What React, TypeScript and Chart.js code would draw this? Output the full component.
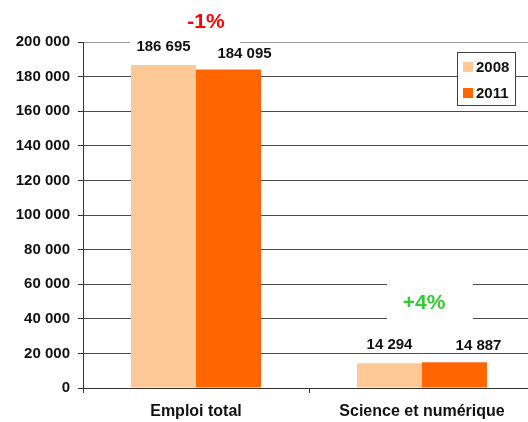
import React, { useEffect, useRef } from "react";
import { Chart, registerables } from "chart.js";

Chart.register(...registerables);

const categories = ["Emploi total", "Science et numérique"];
const seriesLabels = ["2008", "2011"];
const values2008 = [186695, 14294];
const values2011 = [184095, 14887];
const seriesColors = ["#FFC896", "#FF6600"];
const changeLabels = ["-1%", "+4%"];
const changeColors = ["#FF0000", "#33CC33"];
const yMin = 0;
const yMax = 200000;
const yStep = 20000;

const FONT = "'Liberation Sans', Arial, sans-serif";

const fmt = (v: number) =>
  String(Math.round(v)).replace(/\B(?=(\d{3})+(?!\d))/g, " ");

const overlayPlugin = {
  id: "overlay",
  afterDatasetsDraw(chart: any) {
    const ctx = chart.ctx as CanvasRenderingContext2D;
    const xs = chart.scales.x;
    const ys = chart.scales.y;
    const area = chart.chartArea;
    const c0 = xs.getPixelForValue(0);
    const c1 = xs.getPixelForValue(1);
    ctx.save();
    // white text boxes behind the change annotations
    ctx.fillStyle = "#FFFFFF";
    ctx.fillRect(c0 - 66, 0, 110, area.top + 1);
    const b1 = ys.getPixelForValue(66000);
    const b2 = ys.getPixelForValue(37000);
    ctx.fillRect(c1 - 35, b1, 86, b2 - b1);

    // value labels
    ctx.font = `bold 15px ${FONT}`;
    ctx.fillStyle = "#111111";
    ctx.textAlign = "center";
    ctx.textBaseline = "middle";
    const dxs = [
      [0, 0],
      [16, 24],
    ];
    const dys = [18, 16];
    chart.data.datasets.forEach((ds: any, di: number) => {
      const meta = chart.getDatasetMeta(di);
      meta.data.forEach((bar: any, i: number) => {
        ctx.fillText(fmt(ds.data[i]), bar.x + dxs[di][i], bar.y - dys[di]);
      });
    });

    // change annotations
    ctx.font = `bold 21px ${FONT}`;
    ctx.fillStyle = changeColors[0];
    ctx.fillText(changeLabels[0], c0 + 10, area.top - 20);
    ctx.fillStyle = changeColors[1];
    ctx.fillText(changeLabels[1], c1 + 2, ys.getPixelForValue(49000));

    // legend
    const lx = area.right - 78;
    const ly = area.top + 10;
    const lw = 58;
    const lh = 53;
    ctx.fillStyle = "#FFFFFF";
    ctx.fillRect(lx, ly, lw, lh);
    ctx.strokeStyle = "#404040";
    ctx.lineWidth = 1;
    ctx.strokeRect(lx + 0.5, ly + 0.5, lw, lh);
    ctx.textAlign = "left";
    ctx.font = `bold 15px ${FONT}`;
    chart.data.datasets.forEach((ds: any, di: number) => {
      const cy = ly + 15 + di * 26;
      ctx.fillStyle = ds.backgroundColor;
      ctx.fillRect(lx + 6, cy - 5, 10, 10);
      ctx.fillStyle = "#111111";
      ctx.fillText(ds.label, lx + 19, cy + 1);
    });
    ctx.restore();
  },
};

export default function App() {
  const ref = useRef<HTMLCanvasElement | null>(null);
  useEffect(() => {
    if (!ref.current) return;
    const chart = new Chart(ref.current, {
      type: "bar",
      data: {
        labels: categories,
        datasets: [
          {
            label: seriesLabels[0],
            data: values2008,
            backgroundColor: seriesColors[0],
            categoryPercentage: 0.575,
            barPercentage: 1,
          },
          {
            label: seriesLabels[1],
            data: values2011,
            backgroundColor: seriesColors[1],
            categoryPercentage: 0.575,
            barPercentage: 1,
          },
        ],
      },
      options: {
        responsive: false,
        animation: false,
        devicePixelRatio: 1,
        layout: { padding: { top: 42, left: 0, right: 5, bottom: 0 } },
        plugins: {
          legend: { display: false },
          tooltip: { enabled: false },
        },
        scales: {
          x: {
            afterFit: (s: any) => {
              s.height = 34;
            },
            grid: {
              display: true,
              drawOnChartArea: false,
              drawTicks: true,
              tickLength: 5,
              offset: true,
              color: "#333333",
            },
            border: { color: "#333333", width: 1 },
            ticks: {
              color: "#111111",
              padding: 9,
              font: { family: FONT, size: 16, weight: "bold" },
            },
          },
          y: {
            min: yMin,
            max: yMax,
            afterFit: (s: any) => {
              s.width = 83;
            },
            grid: {
              color: (c: any) =>
                c.tick && c.tick.value === yMax ? "#9a9a9a" : "#4d4d4d",
              tickColor: "#333333",
              tickLength: 5,
            },
            border: { color: "#333333", width: 1 },
            ticks: {
              stepSize: yStep,
              color: "#111111",
              padding: 8,
              font: { family: FONT, size: 15, weight: "bold" },
              callback: (v: any) => fmt(Number(v)),
            },
          },
        },
      },
      plugins: [overlayPlugin],
    } as any);
    return () => chart.destroy();
  }, []);
  return (
    <div
      style={{
        position: "absolute",
        left: 0,
        top: 0,
        width: 528,
        height: 422,
        overflow: "hidden",
        background: "#fff",
      }}
    >
      <canvas ref={ref} width={540} height={422} style={{ display: "block" }} />
    </div>
  );
}
